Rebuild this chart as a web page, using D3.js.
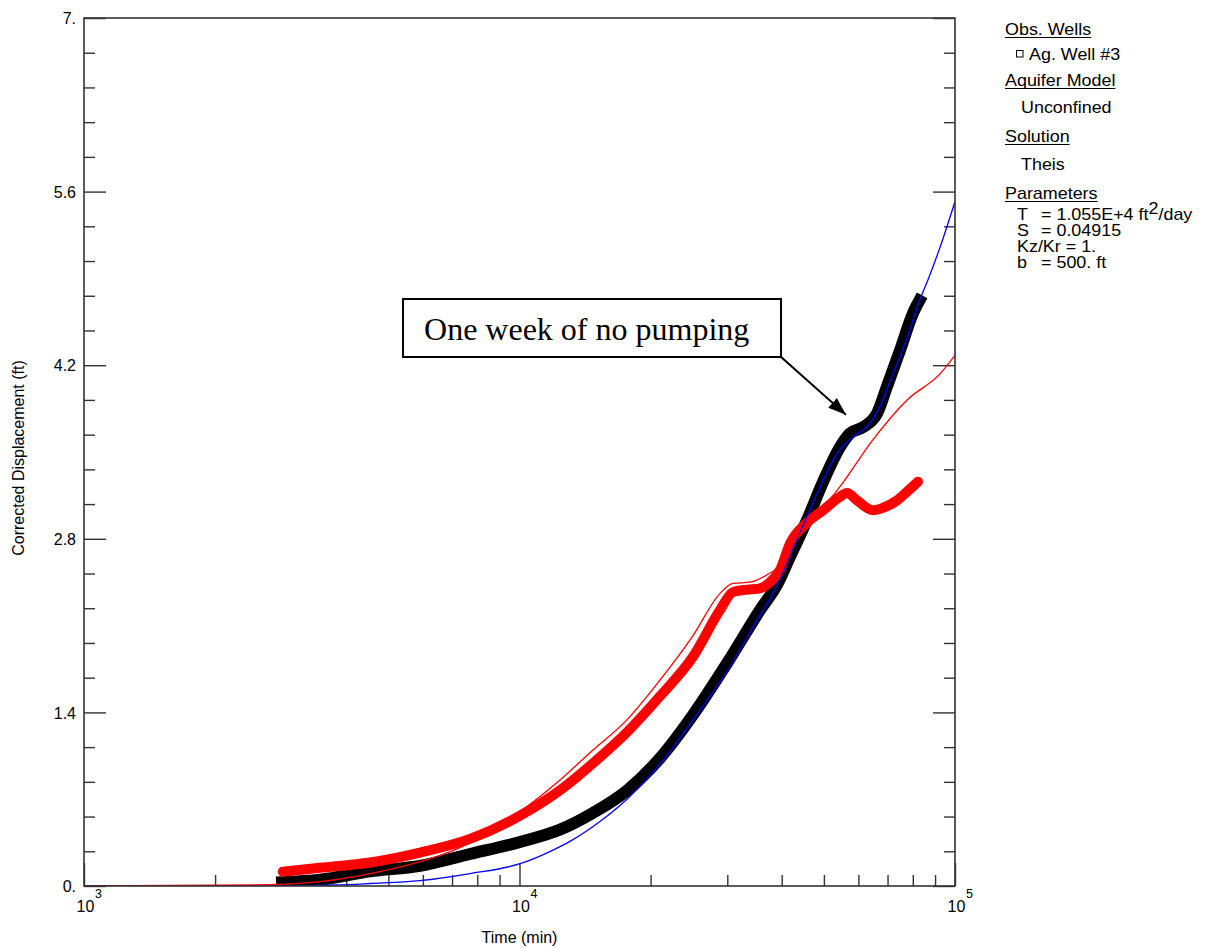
<!DOCTYPE html>
<html>
<head>
<meta charset="utf-8">
<script src="https://cdn.jsdelivr.net/npm/d3@7"></script>
<style>
  body { margin: 0; background: #fff; }
  svg { display: block; }
  text { font-family: "Liberation Sans", Arial, Helvetica, sans-serif; fill: #000; }
</style>
</head>
<body>
<svg id="chart" width="1231" height="948"></svg>
<script>
// Observed drawdown at Ag. Well #3 (time in minutes, corrected displacement in ft)
const well3Time = [2850, 3480, 4540, 5910, 7700, 10030, 12400, 14750, 17650, 21010, 25030, 29960,
  35670, 39030, 41800, 45730, 49780, 54440, 57400, 61500, 66220, 69820, 74790, 80110, 82800];
const well3Disp = [0.03, 0.05, 0.118, 0.163, 0.258, 0.355, 0.455, 0.59, 0.77, 1.03, 1.38, 1.796,
  2.226, 2.43, 2.656, 2.95, 3.26, 3.54, 3.65, 3.70, 3.81, 4.03, 4.32, 4.62, 4.72];

// Theis type curve fitted to Ag. Well #3
const theisTime = [1000, 2670, 3810, 4540, 5910, 7700, 10030, 11940, 13060, 15300, 17650, 21010,
  25030, 29960, 35670, 38210, 45730, 54440, 58320, 63810, 67280, 72070, 77620, 83100, 86700, 92380, 100000];
const theisDisp = [0, 0, 0.008, 0.02, 0.043, 0.10, 0.18, 0.29, 0.36, 0.52, 0.70, 0.98,
  1.34, 1.73, 2.185, 2.36, 2.98, 3.52, 3.62, 3.73, 3.87, 4.13, 4.42, 4.73, 4.89, 5.15, 5.52];

// Second observed record (red triangles)
const redObsTime = [2860, 3480, 4540, 5910, 7700, 10030, 12590, 14750, 17650, 21010, 25030, 28870,
  30920, 33300, 35670, 37600, 39660, 41800, 45730, 49780, 54440, 56490, 59570, 64830, 68360, 73610, 77620, 82220];
const redObsDisp = [0.115, 0.147, 0.19, 0.27, 0.38, 0.567, 0.79, 0.99, 1.24, 1.53, 1.85, 2.226,
  2.37, 2.39, 2.40, 2.45, 2.55, 2.76, 2.93, 3.03, 3.14, 3.17, 3.11, 3.03, 3.05, 3.11, 3.18, 3.26];

// Model curve for the second record (thin red line)
const redFitTime = [1000, 2670, 3480, 4540, 5910, 7300, 10030, 12390, 14750, 17650, 21010, 25030,
  28870, 30920, 33830, 37010, 39660, 41800, 45730, 54440, 64830, 77620, 92380, 100000];
const redFitDisp = [0, 0.01, 0.035, 0.10, 0.196, 0.31, 0.60, 0.855, 1.097, 1.34, 1.66, 2.02,
  2.36, 2.44, 2.45, 2.51, 2.59, 2.74, 2.90, 3.22, 3.60, 3.92, 4.13, 4.28];

// Axis ticks
const yMajorTicks = [0, 1.4, 2.8, 4.2, 5.6, 7];
const yTickLabels = ["0.", "1.4", "2.8", "4.2", "5.6", "7."];
const xDecades = [1e3, 1e4, 1e5];
const xDecadeExponents = ["3", "4", "5"];

// Legend / solution panel
const legendHeadings = ["Obs. Wells", "Aquifer Model", "Solution", "Parameters"];
const legendWell = "Ag. Well #3";
const legendAquifer = "Unconfined";
const legendSolution = "Theis";
const paramNames = ["T", "S", "Kz/Kr", "b"];
const paramValues = ["= 1.055E+4 ft", "= 0.04915", "= 1.", "= 500. ft"];

// Annotation (data coordinates)
const noteText = "One week of no pumping";
const noteBox = { t0: 5402, t1: 39860, d0: 4.266, d1: 4.734 };
const noteArrowTip = { t: 56190, d: 3.80 };

const svg = d3.select("#chart");
const plot = { left: 84, right: 955, top: 18, bottom: 886 };

const x = d3.scaleLog().domain([1e3, 1e5]).range([plot.left, plot.right]);
const y = d3.scaleLinear().domain([0, 7]).range([plot.bottom, plot.top]);

const axisColor = "#333";

// ---- axes -------------------------------------------------------------
const allXTicks = x.ticks();
const isDecade = d => Math.abs(Math.log10(d) - Math.round(Math.log10(d))) < 1e-9;
const xMinor = allXTicks.filter(d => !isDecade(d));
const yMinor = d3.range(0, 36).map(i => i * 0.28).filter(v => v <= 7.0001 && !yMajorTicks.some(m => Math.abs(m - v) < 1e-6));

function styleAxis(g) {
  g.select(".domain").remove();
  g.selectAll(".tick line").attr("stroke", axisColor).attr("stroke-width", 1.4);
}

// bottom: minor & major ticks pointing inward
svg.append("g").attr("transform", `translate(0,${plot.bottom})`)
  .call(d3.axisBottom(x).tickValues(xMinor).tickSize(-11).tickFormat(""))
  .call(styleAxis);
svg.append("g").attr("transform", `translate(0,${plot.bottom})`)
  .call(d3.axisBottom(x).tickValues(xDecades).tickSize(-23).tickFormat(""))
  .call(styleAxis);

// left
svg.append("g").attr("transform", `translate(${plot.left},0)`)
  .call(d3.axisLeft(y).tickValues(yMinor).tickSize(-11).tickFormat(""))
  .call(styleAxis);
const yAxisG = svg.append("g").attr("transform", `translate(${plot.left},0)`)
  .call(d3.axisLeft(y).tickValues(yMajorTicks).tickSize(-22).tickPadding(8)
    .tickFormat((d, i) => yTickLabels[i]))
  .call(styleAxis);
yAxisG.selectAll(".tick text")
  .attr("font-family", "'Liberation Sans', Arial, sans-serif")
  .attr("font-size", 16).attr("fill", "#000").attr("dy", "0.36em");

// right
svg.append("g").attr("transform", `translate(${plot.right},0)`)
  .call(d3.axisRight(y).tickValues(yMinor).tickSize(-11).tickFormat(""))
  .call(styleAxis);
svg.append("g").attr("transform", `translate(${plot.right},0)`)
  .call(d3.axisRight(y).tickValues(yMajorTicks).tickSize(-22).tickFormat(""))
  .call(styleAxis);

// x decade labels: 10 with superscript exponent
const xLab = svg.append("g");
xDecades.forEach((d, i) => {
  xLab.append("text").attr("x", x(d) + 1.5).attr("y", 912)
    .attr("text-anchor", "middle").attr("font-size", 16).text("10");
  xLab.append("text").attr("x", x(d) + 11).attr("y", 898)
    .attr("font-size", 12.5).text(xDecadeExponents[i]);
});

// axis titles
svg.append("text").attr("x", (plot.left + plot.right) / 2).attr("y", 943)
  .attr("text-anchor", "middle").attr("font-size", 16).text("Time (min)");
svg.append("text").attr("transform", `translate(24,${(plot.top + plot.bottom) / 2 + 6}) rotate(-90)`)
  .attr("text-anchor", "middle").attr("font-size", 16).text("Corrected Displacement (ft)");

// ---- series -----------------------------------------------------------
svg.append("clipPath").attr("id", "plotClip").append("rect")
  .attr("x", plot.left).attr("y", plot.top)
  .attr("width", plot.right - plot.left).attr("height", plot.bottom - plot.top);

const series = svg.append("g").attr("clip-path", "url(#plotClip)");
const line = d3.line().x(d => x(d[0])).y(d => y(d[1])).curve(d3.curveMonotoneX);
const zip = (a, b) => a.map((v, i) => [v, b[i]]);

// dense observation records drawn as heavy bands of markers
series.append("path").datum(zip(well3Time, well3Disp))
  .attr("d", line).attr("fill", "none").attr("stroke", "#000")
  .attr("stroke-width", 12).attr("stroke-linejoin", "round").attr("stroke-linecap", "square");
series.append("path").datum(zip(redObsTime, redObsDisp))
  .attr("d", line).attr("fill", "none").attr("stroke", "#ff0000")
  .attr("stroke-width", 10).attr("stroke-linejoin", "round").attr("stroke-linecap", "round");

// fitted curves
series.append("path").datum(zip(theisTime, theisDisp))
  .attr("d", line).attr("fill", "none").attr("stroke", "#0000ff").attr("stroke-width", 1.3);
series.append("path").datum(zip(redFitTime, redFitDisp))
  .attr("d", line).attr("fill", "none").attr("stroke", "#ff0000").attr("stroke-width", 1.3);

// frame
svg.append("rect").attr("x", plot.left).attr("y", plot.top)
  .attr("width", plot.right - plot.left).attr("height", plot.bottom - plot.top)
  .attr("fill", "none").attr("stroke", axisColor).attr("stroke-width", 1.6);

// ---- annotation -------------------------------------------------------
const bx0 = x(noteBox.t0), bx1 = x(noteBox.t1), by0 = y(noteBox.d1), by1 = y(noteBox.d0);
svg.append("rect").attr("x", bx0).attr("y", by0).attr("width", bx1 - bx0).attr("height", by1 - by0)
  .attr("fill", "#fff").attr("stroke", "#000").attr("stroke-width", 2);
svg.append("text").attr("x", bx0 + 21).attr("y", by0 + 41)
  .style("font-family", "'Liberation Serif', 'Times New Roman', serif")
  .attr("font-size", 32).text(noteText);

svg.append("defs").append("marker").attr("id", "arrowHead")
  .attr("viewBox", "0 0 10 10").attr("refX", 10).attr("refY", 5)
  .attr("markerUnits", "userSpaceOnUse").attr("markerWidth", 18).attr("markerHeight", 18)
  .attr("orient", "auto")
  .append("path").attr("d", "M0,1.4 L10,5 L0,8.6 Z").attr("fill", "#000");
svg.append("line").attr("x1", bx1).attr("y1", by1)
  .attr("x2", x(noteArrowTip.t)).attr("y2", y(noteArrowTip.d))
  .attr("stroke", "#000").attr("stroke-width", 2).attr("marker-end", "url(#arrowHead)");

// ---- legend panel -----------------------------------------------------
const legStretch = 1.12;
const leg = svg.append("g").attr("font-size", 16);
function legText(txt, lx, ly) {
  return leg.append("text").attr("transform", `translate(${lx},${ly}) scale(${legStretch},1)`).text(txt);
}
function heading(txt, yb) {
  const t = legText(txt, 1005, yb);
  const w = t.node().getComputedTextLength() * legStretch;
  leg.append("line").attr("x1", 1005).attr("x2", 1005 + w).attr("y1", yb + 2.5).attr("y2", yb + 2.5)
    .attr("stroke", "#000").attr("stroke-width", 1);
}
heading(legendHeadings[0], 35);
leg.append("rect").attr("x", 1016.5).attr("y", 50.5).attr("width", 6.5).attr("height", 6.5)
  .attr("fill", "none").attr("stroke", "#000").attr("stroke-width", 1);
legText(legendWell, 1029, 60);
heading(legendHeadings[1], 86);
legText(legendAquifer, 1021, 113);
heading(legendHeadings[2], 142);
legText(legendSolution, 1021, 170);
heading(legendHeadings[3], 199);

const paramY = [220, 236, 252, 268];
paramNames.forEach((n, i) => {
  if (n === "Kz/Kr") {
    legText(n + " " + paramValues[i], 1017, paramY[i]);
  } else {
    legText(n, 1017, paramY[i]);
    const t = legText(paramValues[i], 1041, paramY[i]);
    if (i === 0) {
      t.append("tspan").attr("dy", -6).attr("font-size", 16).text("2");
      t.append("tspan").attr("dy", 6).text("/day");
    }
  }
});
</script>
</body>
</html>
